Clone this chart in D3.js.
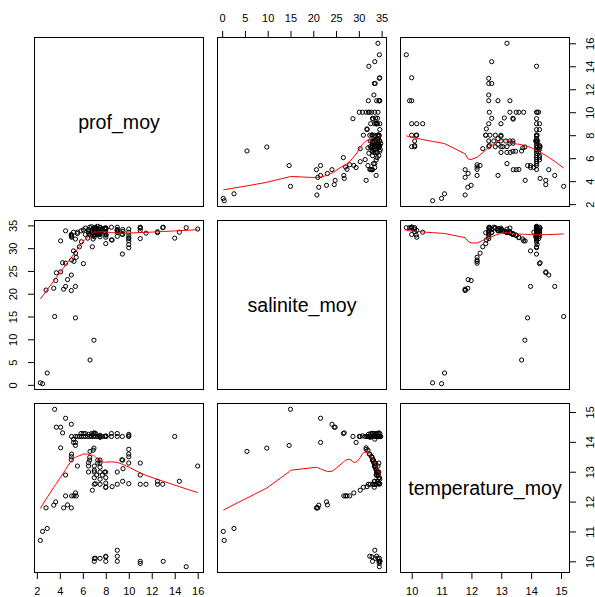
<!DOCTYPE html>
<html>
<head>
<meta charset="utf-8">
<script src="https://d3js.org/d3.v7.min.js"></script>
<style>
  body { margin: 0; background: #fff; }
  text { font-family: "Liberation Sans", Arial, sans-serif; }
</style>
</head>
<body>
<div id="pairs"></div>
<script>
// variable names shown on the diagonal
const varNames = ["prof_moy", "salinite_moy", "temperature_moy"];

// one observation per position, same order in the three arrays
const prof = [
  2.3, 2.5, 2.9, 3.55, 5.36, 6.97, 6.63,
  2.8, 3.47, 3.64, 4.33, 4.67, 5.0, 4.5, 5.0, 3.7, 4.07, 4.24, 6.05, 5.36,
  4.5, 5.03, 5.23, 5.43, 5.37, 6.83, 8.0, 8.55, 7.0, 7.5, 8.0, 9.0, 9.47, 11.5, 12.5, 12.5, 12.95, 14.4, 11.0, 10.0, 7.1, 8.0,
  5.02, 5.19, 5.36, 5.53, 5.7, 5.85, 5.88, 6.05, 6.22, 6.22, 6.43, 6.6, 6.77, 6.77, 6.94, 6.94, 7.0, 7.11, 7.11, 7.29,
  7.49, 7.5, 7.69, 7.92, 8.03, 8.49, 8.49, 9.0, 9.44, 10.0, 10.0, 10.0, 14.0, 5.19, 6.5, 7.0, 7.5, 8.0, 9.0,
  5.02, 5.0, 5.0, 5.53, 4.5, 6.6, 6.6, 6.5, 7.3, 7.5, 7.3, 7.5, 6.5, 7.0, 16.0, 9.47, 10.0, 10.0, 11.0, 11.0,
  6.5, 7.0, 7.5, 8.0, 7.2, 7.7, 7.9, 9.0, 9.5, 9.4, 7.0, 7.5, 8.0, 7.0, 7.5, 4.07, 6.9, 10.0, 10.0,
  7.0, 7.0, 7.1, 7.5, 8.0, 8.0, 8.0, 9.0, 9.0, 9.0, 11.0, 11.0, 13.0, 15.0
];
const sal = [
  0.45, 0.25, 2.6, 15.0, 14.7, 9.8, 5.45,
  20.8, 21.2, 22.9, 21.0, 23.1, 20.7, 21.6, 24.1, 24.6, 24.8, 26.8, 26.6, 21.6,
  26.7, 27.4, 27.1, 28.0, 28.9, 30.3, 31.0, 31.8, 32.5, 33.0, 33.4, 33.8, 34.1, 33.3, 33.6, 33.4, 34.5, 33.5, 32.1, 34.2, 34.6, 34.4,
  32.6, 33.5, 32.0, 33.2, 30.3, 33.8, 31.4, 34.0, 33.0, 34.4, 32.2, 34.6, 33.3, 34.7, 32.8, 34.2, 33.6, 34.5, 33.0, 34.8,
  34.1, 33.4, 34.3, 33.7, 32.9, 34.6, 31.8, 33.9, 28.7, 30.1, 30.8, 32.1, 32.2, 29.4, 34.0, 34.4, 32.5, 34.2, 32.6,
  32.4, 32.8, 33.0, 33.5, 33.8, 32.9, 33.1, 33.3, 33.0, 33.2, 33.4, 33.6, 33.6, 33.4, 34.2, 33.0, 32.3, 33.5, 34.4, 33.9,
  34.0, 33.9, 34.1, 34.2, 34.3, 34.0, 34.4, 34.1, 33.7, 33.1, 33.8, 33.6, 34.4, 34.5, 34.6, 31.6, 32.0, 31.6, 32.8,
  33.0, 34.2, 33.6, 34.5, 32.4, 32.9, 34.4, 33.5, 33.9, 34.6, 34.6, 34.5, 34.6, 34.5
];
const temp = [
  10.7, 11.0, 11.1, 15.09, 13.88, 13.79, 13.68,
  11.79, 11.88, 11.99, 11.79, 11.89, 11.79, 14.79, 14.59, 14.49, 14.49, 14.3, 14.28, 13.98,
  12.19, 12.19, 12.19, 12.19, 12.29, 12.38, 12.48, 12.5, 12.58, 12.58, 12.48, 12.58, 12.68, 12.58, 12.58, 12.68, 12.58, 12.68, 12.58, 12.6, 12.6, 12.62,
  14.18, 14.09, 14.18, 14.18, 14.18, 14.28, 14.18, 14.18, 14.28, 14.18, 14.18, 14.18, 14.28, 14.18, 14.18, 14.28, 14.2, 14.18, 14.28, 14.18,
  14.18, 14.22, 14.18, 14.18, 14.18, 14.28, 14.18, 14.18, 14.18, 14.18, 14.2, 14.25, 14.18, 13.98, 14.25, 14.3, 14.15, 14.2, 14.28,
  13.59, 13.5, 13.4, 13.19, 12.89, 13.48, 13.39, 13.3, 13.39, 13.39, 13.29, 13.29, 13.19, 13.19, 13.19, 13.39, 13.59, 13.29, 13.29, 12.89,
  12.99, 12.99, 12.99, 12.99, 12.89, 12.89, 12.99, 12.99, 13.1, 13.4, 13.05, 13.15, 12.8, 12.8, 12.75, 13.8, 13.72, 13.75, 13.5,
  10.0, 10.1, 10.1, 10.1, 10.17, 10.15, 10.0, 10.37, 10.17, 10.0, 10.0, 9.93, 10.0, 9.82
];

// tick labels of the outer axes
const profTicks = [2, 4, 6, 8, 10, 12, 14, 16];
const salTicks = [0, 5, 10, 15, 20, 25, 30, 35];
const tempTicks = [10, 11, 12, 13, 14, 15];

const vars = [prof, sal, temp];

// panel layout
const size = 170, step = 183, marginLeft = 34, marginTop = 37;

// same 4% padding as R
function padded(v) {
  const [a, b] = d3.extent(v);
  const e = (b - a) * 0.04;
  return [a - e, b + e];
}
const xScales = vars.map(v => d3.scaleLinear().domain(padded(v)).range([0, size]));
const yScales = vars.map(v => d3.scaleLinear().domain(padded(v)).range([size, 0]));

// port of R's clowess (f = 2/3, iter = 3)
function lowess(xIn, yIn, f = 2 / 3, nsteps = 3) {
  const order = d3.range(xIn.length).sort((a, b) => xIn[a] - xIn[b]);
  const n = order.length;
  const x = [0].concat(order.map(i => xIn[i]));
  const y = [0].concat(order.map(i => yIn[i]));
  const delta = 0.01 * (x[n] - x[1]);
  const ys = new Array(n + 1).fill(0);
  const rw = new Array(n + 1).fill(1);
  const res = new Array(n + 1).fill(0);
  const w = new Array(n + 1).fill(0);
  const ns = Math.max(2, Math.min(n, Math.floor(f * n + 1e-7)));

  function lowest(xs, nleft, nright, userw) {
    const range = x[n] - x[1];
    const h = Math.max(xs - x[nleft], x[nright] - xs);
    const h9 = 0.999 * h, h1 = 0.001 * h;
    let a = 0, j = nleft;
    while (j <= n) {
      w[j] = 0;
      const r = Math.abs(x[j] - xs);
      if (r <= h9) {
        w[j] = r <= h1 ? 1 : Math.pow(1 - Math.pow(r / h, 3), 3);
        if (userw) w[j] *= rw[j];
        a += w[j];
      } else if (x[j] > xs) break;
      j++;
    }
    const nrt = j - 1;
    if (a <= 0) return null;
    for (j = nleft; j <= nrt; j++) w[j] /= a;
    if (h > 0) {
      a = 0;
      for (j = nleft; j <= nrt; j++) a += w[j] * x[j];
      let b = xs - a, c = 0;
      for (j = nleft; j <= nrt; j++) c += w[j] * (x[j] - a) * (x[j] - a);
      if (Math.sqrt(c) > 0.001 * range) {
        b /= c;
        for (j = nleft; j <= nrt; j++) w[j] *= b * (x[j] - a) + 1;
      }
    }
    let s = 0;
    for (j = nleft; j <= nrt; j++) s += w[j] * y[j];
    return s;
  }

  for (let iter = 1; iter <= nsteps + 1; iter++) {
    let nleft = 1, nright = ns, last = 0, i = 1;
    for (;;) {
      if (nright < n) {
        const d1 = x[i] - x[nleft], d2 = x[nright + 1] - x[i];
        if (d1 > d2) { nleft++; nright++; continue; }
      }
      const fit = lowest(x[i], nleft, nright, iter > 1);
      ys[i] = fit === null ? y[i] : fit;
      if (last < i - 1) {
        const denom = x[i] - x[last];
        for (let j = last + 1; j < i; j++) {
          const alpha = (x[j] - x[last]) / denom;
          ys[j] = alpha * ys[i] + (1 - alpha) * ys[last];
        }
      }
      last = i;
      const cut = x[last] + delta;
      for (i = last + 1; i <= n; i++) {
        if (x[i] > cut) break;
        if (x[i] === x[last]) { ys[i] = ys[last]; last = i; }
      }
      i = Math.max(last + 1, i - 1);
      if (last >= n) break;
    }
    for (let k = 1; k <= n; k++) res[k] = y[k] - ys[k];
    if (iter > nsteps) break;
    const absr = res.slice(1).map(Math.abs);
    const sorted = absr.slice().sort((a, b) => a - b);
    const m1 = Math.floor(n / 2);
    const cmad = n % 2 === 0 ? 3 * (sorted[m1] + sorted[n - m1 - 1]) : 6 * sorted[m1];
    const sc = d3.sum(absr) / n;
    if (cmad < 1e-7 * sc) break;
    const c9 = 0.999 * cmad, c1 = 0.001 * cmad;
    for (let k = 1; k <= n; k++) {
      const r = absr[k - 1];
      rw[k] = r <= c1 ? 1 : r <= c9 ? Math.pow(1 - Math.pow(r / cmad, 2), 2) : 0;
    }
  }
  return x.slice(1).map((v, k) => [v, ys[k + 1]]);
}

const svg = d3.select("#pairs")
  .append("svg")
  .attr("width", 595)
  .attr("height", 597);

vars.forEach((vy, i) => {
  vars.forEach((vx, j) => {
    const g = svg.append("g")
      .attr("transform", `translate(${marginLeft + j * step},${marginTop + i * step})`);

    if (i === j) {
      g.append("text")
        .text(varNames[i])
        .attr("x", size / 2)
        .attr("y", size / 2 + 7)
        .attr("text-anchor", "middle")
        .attr("font-size", 19.6)
        .style("fill", "black");
    } else {
      const x = xScales[j], y = yScales[i];
      // points
      g.append("g")
        .selectAll("circle")
        .data(d3.range(vx.length))
        .join("circle")
        .attr("cx", k => x(vx[k]))
        .attr("cy", k => y(vy[k]))
        .attr("r", 2.1)
        .style("fill", "none")
        .style("stroke", "black")
        .style("stroke-width", 1);
      // smoother
      g.append("path")
        .datum(lowess(vx, vy))
        .attr("d", d3.line().x(d => x(d[0])).y(d => y(d[1])))
        .style("fill", "none")
        .style("stroke", "#ff0000")
        .style("stroke-width", 1);
    }

    g.append("rect")
      .attr("x", 0.5)
      .attr("y", 0.5)
      .attr("width", size - 1)
      .attr("height", size - 1)
      .style("fill", "none")
      .style("stroke", "black")
      .style("stroke-width", 1);
  });
});

// outer axes, alternating like pairs()
function axisAt(axis, tx, ty, labels) {
  const g = svg.append("g")
    .attr("transform", `translate(${tx},${ty})`)
    .call(axis.tickSize(6).tickSizeOuter(0).tickFormat(d3.format("d")));
  g.select(".domain").remove();
  g.selectAll("text")
    .attr("font-size", 11)
    .attr("font-family", "Liberation Sans, Arial, sans-serif")
    .style("fill", "black")
    .call(labels);
  g.selectAll("line").style("stroke", "black");
  return g;
}

const bottomY = marginTop + 2 * step + size, rightX = marginLeft + 2 * step + size;
axisAt(d3.axisTop(xScales[1]).tickValues(salTicks), marginLeft + step, marginTop,
  t => t.attr("y", -15).attr("dy", 0));
axisAt(d3.axisBottom(xScales[0]).tickValues(profTicks), marginLeft, bottomY,
  t => t.attr("y", 22).attr("dy", 0));
axisAt(d3.axisBottom(xScales[2]).tickValues(tempTicks), marginLeft + 2 * step, bottomY,
  t => t.attr("y", 22).attr("dy", 0));
axisAt(d3.axisRight(yScales[0]).tickValues(profTicks), rightX, marginTop,
  t => t.attr("x", 0).attr("dy", 0).attr("text-anchor", "middle")
    .attr("transform", "translate(24,0) rotate(-90)"));
axisAt(d3.axisRight(yScales[2]).tickValues(tempTicks), rightX, marginTop + 2 * step,
  t => t.attr("x", 0).attr("dy", 0).attr("text-anchor", "middle")
    .attr("transform", "translate(24,0) rotate(-90)"));
axisAt(d3.axisLeft(yScales[1]).tickValues(salTicks), marginLeft, marginTop + step,
  t => t.attr("x", 0).attr("dy", 0).attr("text-anchor", "middle")
    .attr("transform", "translate(-17,0) rotate(-90)"));
</script>
</body>
</html>
